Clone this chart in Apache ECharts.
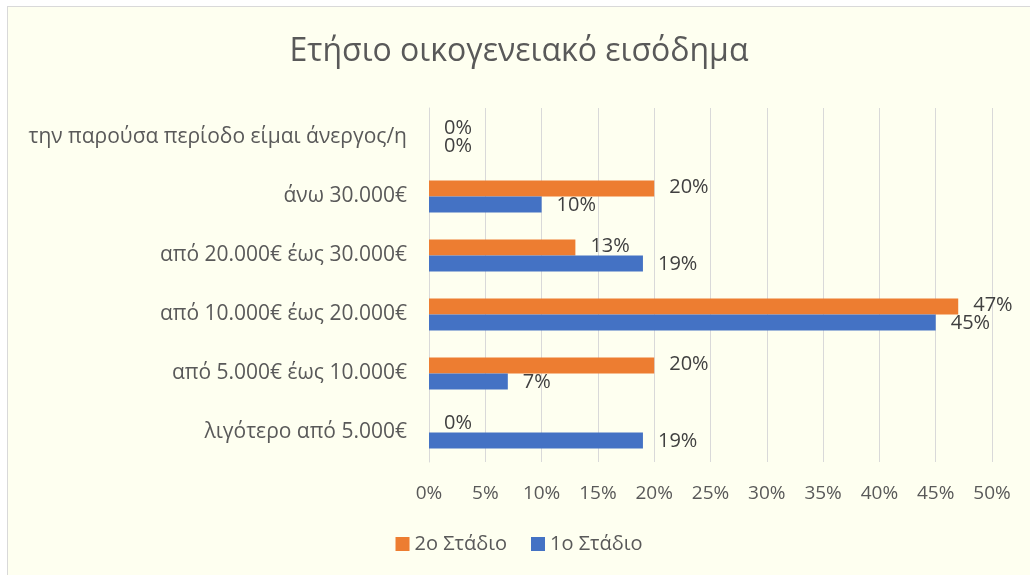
<!DOCTYPE html>
<html>
<head>
<meta charset="utf-8">
<script src="https://cdn.jsdelivr.net/npm/echarts@6/dist/echarts.min.js"></script>
<style>
  html, body { margin: 0; padding: 0; background: #ffffff; }
  #chart {
    position: absolute; left: 7px; top: 6px;
    width: 1022px; height: 568px;
    border-left: 1px solid #d9d9d9; border-top: 1px solid #d9d9d9;
    background: #fefff0;
  }
</style>
</head>
<body>
<div id="chart"></div>
<script>
// categories from bottom to top
const categories = [
  'λιγότερο από 5.000€',
  'από 5.000€ έως 10.000€',
  'από 10.000€ έως 20.000€',
  'από 20.000€ έως 30.000€',
  'άνω 30.000€',
  'την παρούσα περίοδο είμαι άνεργος/η'
]
const stage2 = [0, 20, 47, 13, 20, 0]
const stage1 = [19, 7, 45, 19, 10, 0]

const chartDom = document.getElementById('chart')
const myChart = echarts.init(chartDom)
const font = '"Open Sans", "Noto Sans", sans-serif'

const labelStyle = {
  show: true,
  position: 'right',
  distance: 15,
  formatter: '{c}%',
  fontFamily: font,
  fontSize: 20,
  color: '#404040',
}

const option = {
  animation: false,
  title: {
    text: 'Ετήσιο οικογενειακό εισόδημα',
    left: 'center',
    top: 24,
    textStyle: { fontFamily: font, fontSize: 32, fontWeight: 'normal', color: '#595959' },
  },
  legend: {
    data: ['2ο Στάδιο', '1ο Στάδιο'],
    bottom: 16,
    left: 'center',
    itemWidth: 14,
    itemHeight: 14,
    itemGap: 24,
    icon: 'rect',
    textStyle: { fontFamily: font, fontSize: 20, color: '#595959' },
  },
  grid: { left: 421, right: 38, top: 101, bottom: 113 },
  xAxis: {
    type: 'value',
    min: 0,
    max: 50,
    interval: 5,
    axisLabel: { formatter: '{value}%', fontFamily: font, fontSize: 19, color: '#595959', margin: 22 },
    splitLine: { lineStyle: { color: '#d9d9d9' } },
    axisLine: { show: false },
    axisTick: { show: false },
  },
  yAxis: {
    type: 'category',
    data: categories,
    axisLabel: { fontFamily: font, fontSize: 21, color: '#595959', margin: 22 },
    axisLine: { show: true, lineStyle: { color: '#d9d9d9' } },
    axisTick: { show: false },
  },
  series: [
    {
      name: '2ο Στάδιο',
      type: 'bar',
      data: stage2,
      barWidth: 16,
      barGap: '0%',
      itemStyle: { color: '#ed7d31' },
      label: { ...labelStyle, offset: [0, -1] },
    },
    {
      name: '1ο Στάδιο',
      type: 'bar',
      data: stage1,
      barWidth: 16,
      barGap: '0%',
      itemStyle: { color: '#4472c4' },
      label: { ...labelStyle, offset: [0, 1] },
    },
  ],
}
option && myChart.setOption(option)
</script>
</body>
</html>
